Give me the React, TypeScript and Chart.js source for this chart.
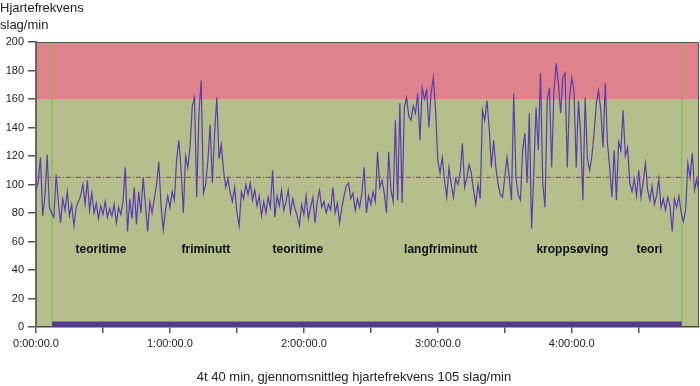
import React, { useEffect, useRef } from 'react';
import { Chart, registerables } from 'chart.js';

Chart.register(...registerables);

// ---- data ----
const SAMPLE_MINUTES = 1;
const heartRate = [
  96, 102, 119, 78, 92, 121, 84, 80, 77, 107,
  88, 73, 90, 82, 95, 78, 86, 71, 84, 88,
  92, 100, 86, 103, 82, 94, 80, 87, 76, 85,
  79, 88, 77, 83, 78, 86, 73, 84, 79, 88,
  112, 67, 90, 76, 98, 72, 95, 80, 105, 86,
  67, 88, 80, 90, 100, 116, 85, 68, 82, 92,
  84, 95, 89, 118, 131, 110, 80, 120, 112, 126,
  155, 161, 91, 150, 173, 94, 100, 117, 142, 101,
  136, 161, 118, 128, 110, 98, 104, 94, 88, 98,
  80, 71, 95, 90, 100, 93, 101, 89, 96, 85,
  92, 78, 88, 80, 91, 84, 110, 77, 92, 85,
  96, 82, 88, 96, 80, 90, 83, 78, 71, 86,
  79, 92, 76, 84, 91, 73, 88, 96, 84, 88,
  80, 86, 82, 98, 80, 87, 73, 84, 92, 99,
  101, 90, 94, 82, 90, 84, 94, 112, 80, 92,
  86, 95, 88, 123, 98, 103, 94, 80, 123, 96,
  88, 145, 89, 157, 87, 154, 161, 148, 145, 155,
  150, 164, 131, 168, 160, 166, 140, 165, 175, 152,
  117, 108, 119, 103, 91, 112, 100, 91, 104, 100,
  108, 129, 98, 105, 114, 108, 96, 86, 100, 90,
  152, 145, 159, 140, 112, 131, 112, 100, 93, 91,
  105, 119, 105, 89, 164, 105, 93, 89, 124, 136,
  101, 150, 69, 108, 154, 124, 178, 101, 84, 159,
  168, 112, 165, 185, 171, 150, 175, 178, 112, 161,
  175, 166, 112, 159, 135, 89, 161, 118, 110, 120,
  136, 157, 166, 152, 126, 171, 129, 112, 91, 124,
  89, 130, 124, 152, 120, 126, 101, 95, 104, 92,
  110, 91, 102, 115, 96, 89, 99, 86, 92, 104,
  84, 90, 82, 91, 85, 67, 90, 84, 92, 80,
  74, 82, 115, 105, 122, 96, 104, 94,
];
const averageHeartRate = 105;
const recordingStartMin = 7.2;
const recordingEndMin = 289.3;
const recordingBarHeight = 3.5;
const zoneLimits = [0, 160, 200];
const activityNames = ['teoritime', 'friminutt', 'teoritime', 'langfriminutt', 'kroppsøving', 'teori'];
const activityMinutes = [29.1, 76.1, 117.3, 181.3, 240.3, 274.8];
const activityLabelValue = 54;
const xTickMinutes = [0, 30, 60, 90, 120, 150, 180, 210, 240, 270];
const xMaxMinutes = 297;
const yTickValues = [0, 20, 40, 60, 80, 100, 120, 140, 160, 180, 200];
const yAxisTitle = ['Hjartefrekvens', 'slag/min'];
const xAxisTitle = '4t 40 min, gjennomsnittleg hjartefrekvens 105 slag/min';

// ---- styles ----
const zoneColors = ['#b5bf8b', '#df828c'];
const FONT = "'Liberation Sans', Arial, Helvetica, sans-serif";

function formatTime(min: number): string {
  const h = Math.floor(min / 60);
  return `${h}:00:00.0`;
}

const decorPlugin = {
  id: 'decor',
  beforeDraw(chart: any) {
    const { ctx, chartArea: a, scales } = chart;
    const y = scales.y;
    ctx.save();
    for (let i = 0; i < zoneColors.length; i++) {
      const top = y.getPixelForValue(zoneLimits[i + 1]);
      const bot = y.getPixelForValue(zoneLimits[i]);
      ctx.fillStyle = zoneColors[i];
      ctx.fillRect(a.left, top, a.right - a.left, bot - top);
    }
    ctx.restore();
  },
  afterDatasetsDraw(chart: any) {
    const { ctx, chartArea: a, scales } = chart;
    const x = scales.x;
    const y = scales.y;
    ctx.save();
    ctx.strokeStyle = '#555';
    ctx.lineWidth = 1;
    ctx.beginPath();
    ctx.moveTo(a.left, a.top + 0.5);
    ctx.lineTo(a.right - 0.5, a.top + 0.5);
    ctx.lineTo(a.right - 0.5, a.bottom);
    ctx.stroke();
    ctx.fillStyle = '#111';
    ctx.font = `bold 12px ${FONT}`;
    ctx.textAlign = 'center';
    ctx.textBaseline = 'middle';
    activityNames.forEach((name, i) => {
      ctx.fillText(name, x.getPixelForValue(activityMinutes[i]), y.getPixelForValue(activityLabelValue));
    });
    ctx.restore();
  },
  afterDraw(chart: any) {
    const { ctx } = chart;
    ctx.save();
    ctx.fillStyle = '#222';
    ctx.font = `13px ${FONT}`;
    ctx.textAlign = 'left';
    ctx.textBaseline = 'middle';
    ctx.fillText(yAxisTitle[0], 0, 8);
    ctx.fillText(yAxisTitle[1], 0, 25);
    ctx.textAlign = 'center';
    ctx.fillText(xAxisTitle, 354, 377);
    ctx.restore();
  },
};

export default function App() {
  const ref = useRef<HTMLCanvasElement>(null);
  useEffect(() => {
    if (!ref.current) return;
    const hrPoints = heartRate.map((v, i) => ({ x: i * SAMPLE_MINUTES, y: v }));
    const chart = new Chart(ref.current, {
      type: 'line',
      data: {
        datasets: [
          {
            data: [
              { x: recordingStartMin, y: recordingBarHeight },
              { x: recordingEndMin, y: recordingBarHeight },
            ],
            borderColor: '#52388e',
            backgroundColor: '#52388e',
            borderWidth: 1,
            fill: 'origin',
            pointRadius: 0,
          },
          {
            data: [
              { x: 0, y: averageHeartRate },
              { x: xMaxMinutes, y: averageHeartRate },
            ],
            borderColor: '#a04a9c',
            borderWidth: 1.2,
            borderDash: [5, 2, 1, 2],
            pointRadius: 0,
          },
          {
            data: hrPoints,
            borderColor: '#5a3cb0',
            borderWidth: 1.2,
            pointRadius: 0,
            tension: 0,
          },
          {
            data: [
              { x: recordingStartMin, y: 0 },
              { x: recordingStartMin, y: 200 },
            ],
            borderColor: '#6cc24a',
            borderWidth: 1,
            pointRadius: 0,
          },
          {
            data: [
              { x: recordingEndMin, y: 0 },
              { x: recordingEndMin, y: 200 },
            ],
            borderColor: '#6cc24a',
            borderWidth: 1,
            pointRadius: 0,
          },
        ],
      },
      options: {
        responsive: false,
        animation: false,
        events: [],
        layout: { padding: { top: 42, right: 1, left: 0, bottom: 0 } },
        plugins: { legend: { display: false }, tooltip: { enabled: false }, title: { display: false } },
        scales: {
          x: {
            type: 'linear',
            min: 0,
            max: xMaxMinutes,
            afterBuildTicks: (scale: any) => {
              scale.ticks = xTickMinutes.map((v) => ({ value: v }));
            },
            afterFit: (scale: any) => {
              scale.height = 59;
            },
            ticks: {
              autoSkip: false,
              maxRotation: 0,
              padding: 4,
              color: '#222',
              font: { family: "'Liberation Sans Narrow', " + FONT, size: 11 },
              callback: (v: any) => (Number(v) % 60 === 0 ? formatTime(Number(v)) : ''),
            },
            grid: { drawOnChartArea: false, drawTicks: true, tickLength: 6, color: '#555', lineWidth: 1.5 },
            border: { display: true, color: '#444', width: 1.5 },
          },
          y: {
            type: 'linear',
            min: 0,
            max: 200,
            afterBuildTicks: (scale: any) => {
              scale.ticks = yTickValues.map((v) => ({ value: v }));
            },
            afterFit: (scale: any) => {
              scale.width = 36;
            },
            ticks: {
              padding: 4,
              color: '#222',
              font: { family: FONT, size: 11 },
            },
            grid: { drawOnChartArea: false, drawTicks: true, tickLength: 8, color: '#555', lineWidth: 1.5 },
            border: { display: true, color: '#666', width: 2 },
          },
        },
      },
      plugins: [decorPlugin],
    } as any);
    return () => chart.destroy();
  }, []);
  return (
    <div style={{ position: 'fixed', left: 0, top: 0, width: 700, height: 386, background: '#fff' }}>
      <canvas ref={ref} width={700} height={386} style={{ display: 'block', width: 700, height: 386 }} />
    </div>
  );
}
